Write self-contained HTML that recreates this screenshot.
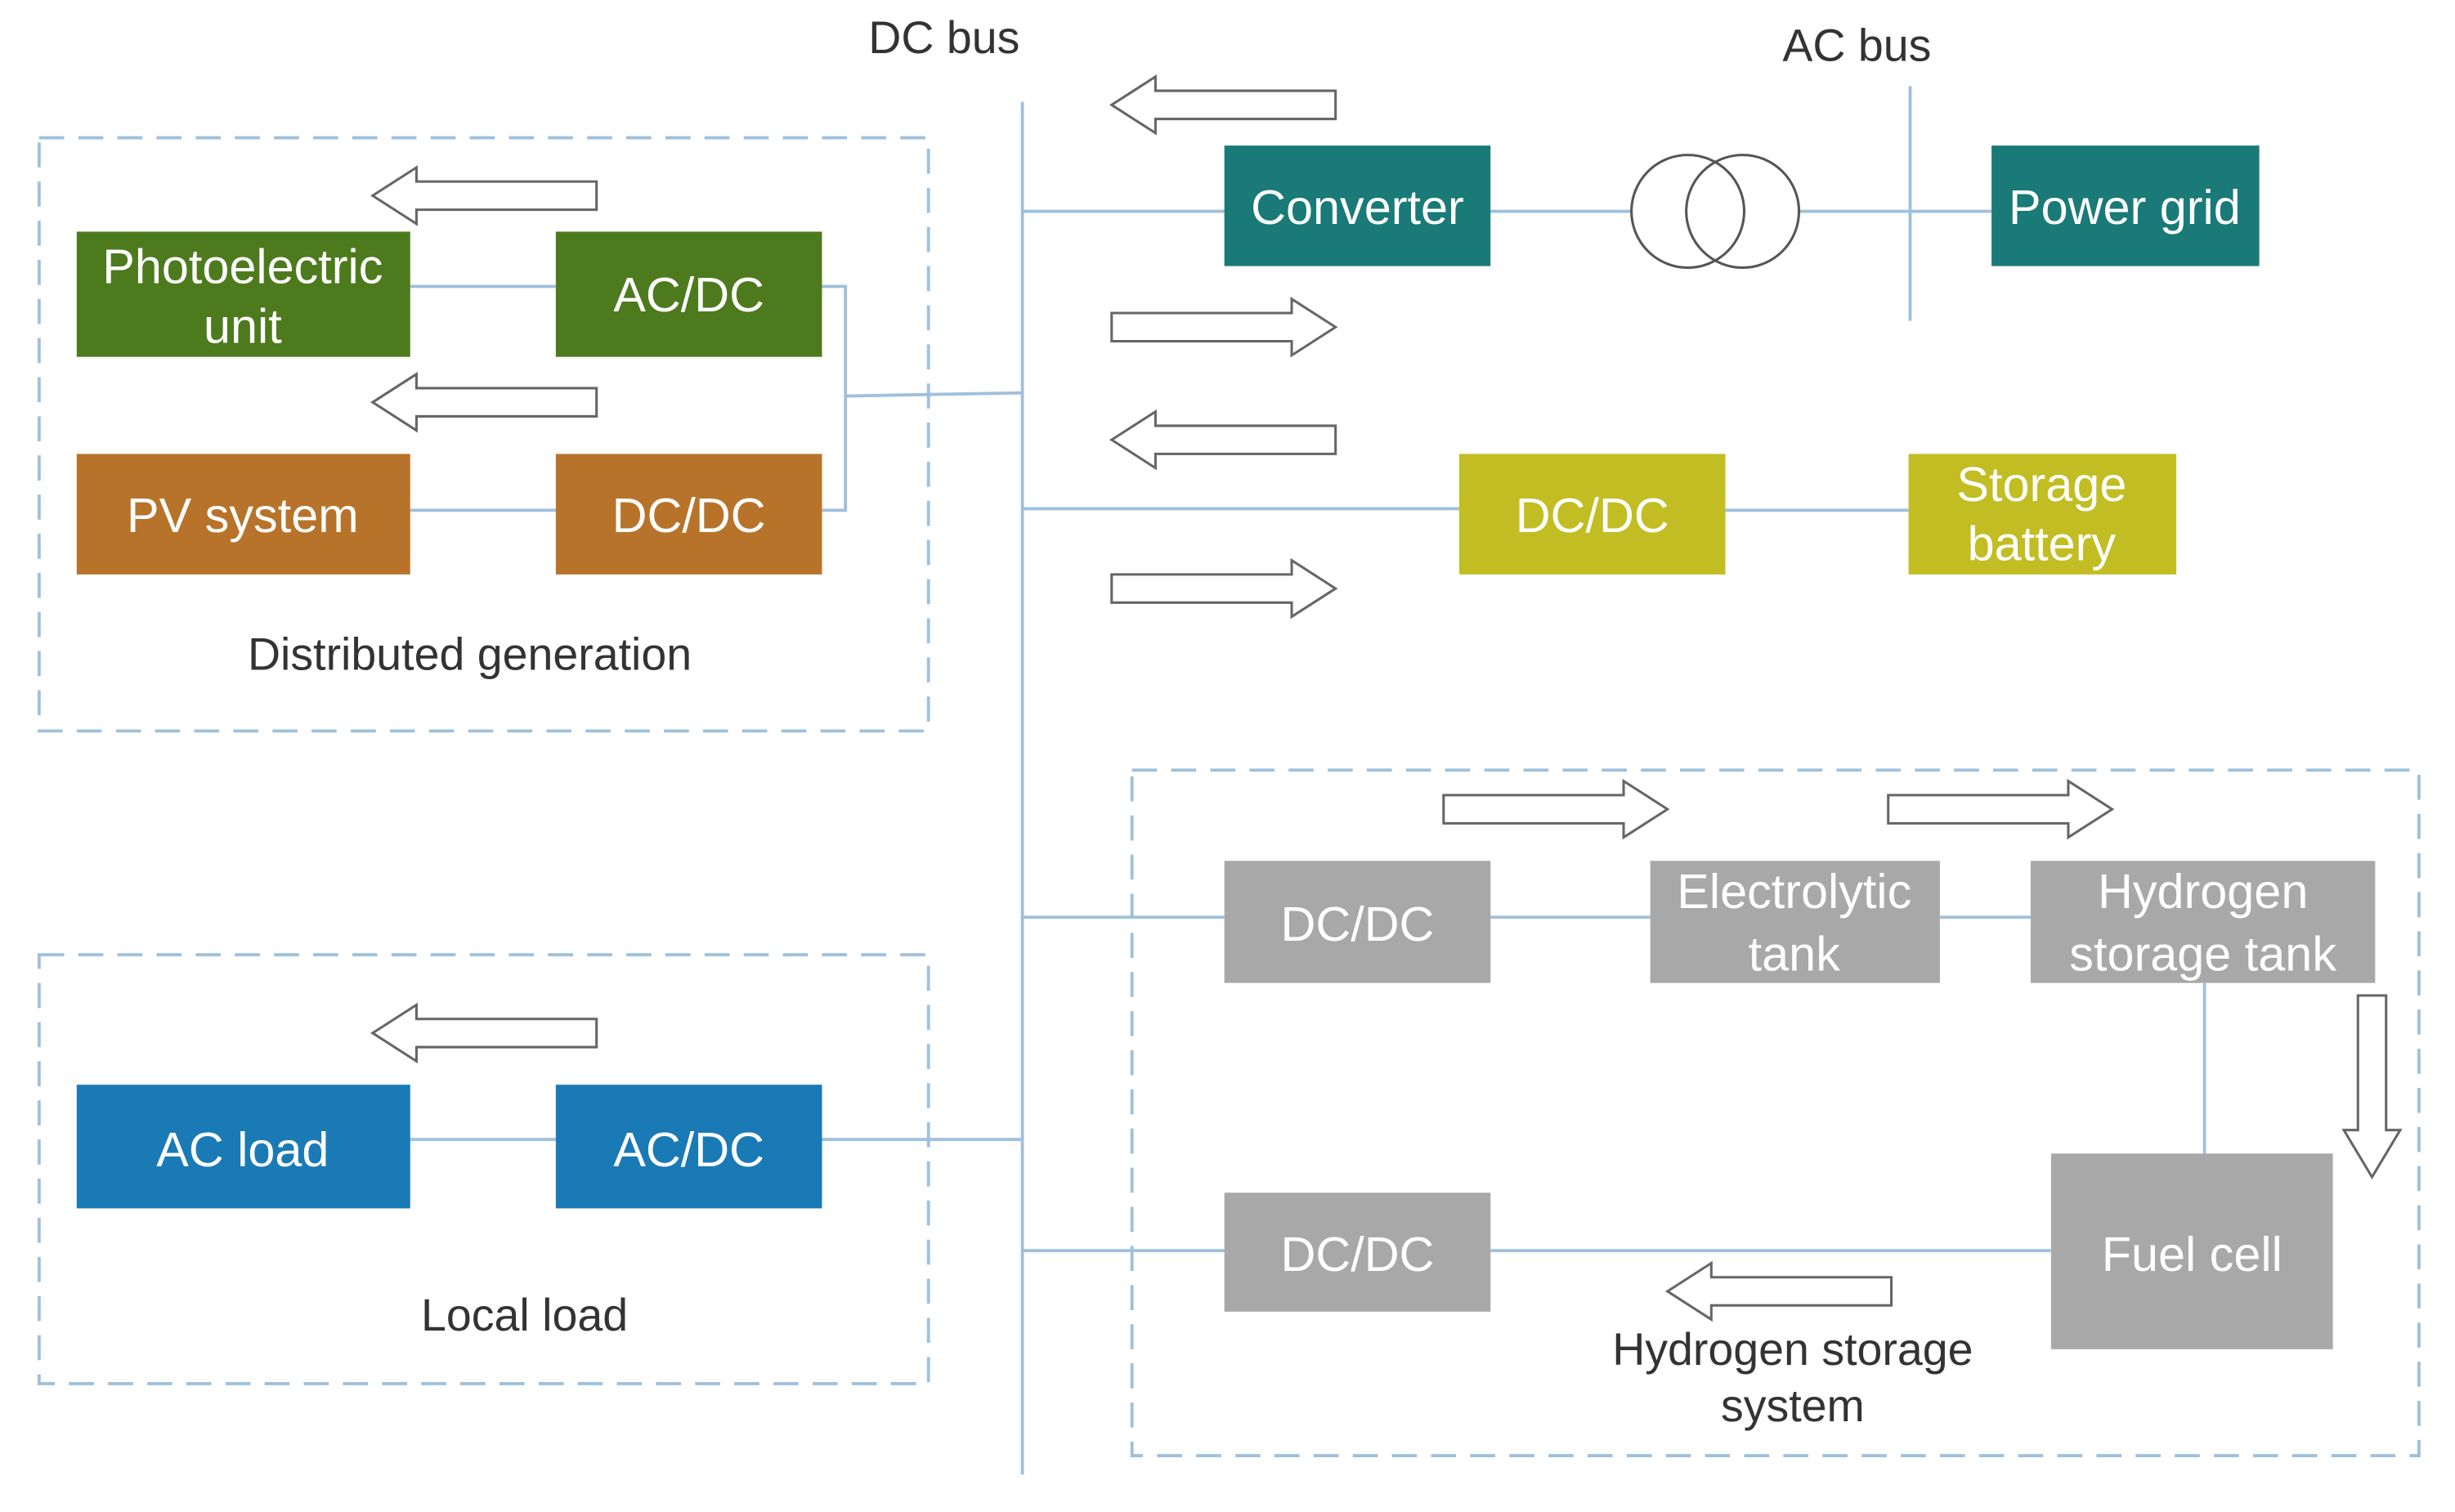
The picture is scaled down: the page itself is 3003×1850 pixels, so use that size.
<!DOCTYPE html>
<html><head><meta charset="utf-8"><style>
html,body{margin:0;padding:0;background:#fff;}
svg{display:block;}
text{font-family:"Liberation Sans",sans-serif;}
.w{fill:#fff;font-size:31px;text-anchor:middle;}
.k{fill:#333;font-size:29px;text-anchor:middle;}
.ln{stroke:#9fc0dc;stroke-width:2;fill:none;}
.ds{stroke:#9fc0dc;stroke-width:2;fill:none;stroke-dasharray:16,9;}
.ar{fill:#fff;stroke:#666;stroke-width:1.6;}
</style></head><body>
<svg width="3003" height="1850" viewBox="0 0 1568 966" preserveAspectRatio="none" xmlns="http://www.w3.org/2000/svg">
<defs>
<path id="ra" d="M0,-9 H115 V-18 L143,0 L115,18 V9 H0 Z"/>
<path id="la" d="M143,-9 H28 V-18 L0,0 L28,18 V9 H143 Z"/>
</defs>
<!-- dashed boxes -->
<rect class="ds" x="25" y="88" width="568" height="379"/>
<rect class="ds" x="25" y="610" width="568" height="274"/>
<rect class="ds" x="723" y="492" width="822" height="438"/>
<!-- buses -->
<line class="ln" x1="653" y1="65" x2="653" y2="942"/>
<line class="ln" x1="1220" y1="55" x2="1220" y2="205"/>
<text class="k" x="603" y="34">DC bus</text>
<text class="k" x="1186" y="39">AC bus</text>
<!-- connection lines -->
<polyline class="ln" points="262,183 355,183"/>
<polyline class="ln" points="262,326 355,326"/>
<polyline class="ln" points="525,183 540,183 540,326 525,326"/>
<polyline class="ln" points="540,253 653,251"/>
<polyline class="ln" points="262,728 355,728"/>
<polyline class="ln" points="525,728 653,728"/>
<polyline class="ln" points="653,135 782,135"/>
<polyline class="ln" points="952,135 1042,135"/>
<polyline class="ln" points="1149,135 1272,135"/>
<polyline class="ln" points="653,325 932,325"/>
<polyline class="ln" points="1102,326 1219,326"/>
<polyline class="ln" points="653,586 782,586"/>
<polyline class="ln" points="952,586 1054,586"/>
<polyline class="ln" points="1239,586 1297,586"/>
<polyline class="ln" points="1408,628 1408,737"/>
<polyline class="ln" points="653,799 782,799"/>
<polyline class="ln" points="952,799 1310,799"/>
<!-- transformer -->
<circle cx="1078" cy="135" r="36" fill="none" stroke="#555" stroke-width="1.6"/>
<circle cx="1113" cy="135" r="36" fill="none" stroke="#555" stroke-width="1.6"/>
<!-- boxes -->
<rect x="49" y="148" width="213" height="80" fill="#4e7a1e"/>
<text class="w" x="155" y="181">Photoelectric</text><text class="w" x="155" y="219">unit</text>
<rect x="355" y="148" width="170" height="80" fill="#4e7a1e"/>
<text class="w" x="440" y="199">AC/DC</text>
<rect x="49" y="290" width="213" height="77" fill="#b8732a"/>
<text class="w" x="155" y="340">PV system</text>
<rect x="355" y="290" width="170" height="77" fill="#b8732a"/>
<text class="w" x="440" y="340">DC/DC</text>
<rect x="49" y="693" width="213" height="79" fill="#1a7ab5"/>
<text class="w" x="155" y="745">AC load</text>
<rect x="355" y="693" width="170" height="79" fill="#1a7ab5"/>
<text class="w" x="440" y="745">AC/DC</text>
<rect x="782" y="93" width="170" height="77" fill="#1a7a78"/>
<text class="w" x="867" y="143">Converter</text>
<rect x="1272" y="93" width="171" height="77" fill="#1a7a78"/>
<text class="w" x="1357" y="143">Power grid</text>
<rect x="932" y="290" width="170" height="77" fill="#c2bd22"/>
<text class="w" x="1017" y="340">DC/DC</text>
<rect x="1219" y="290" width="171" height="77" fill="#c2bd22"/>
<text class="w" x="1304" y="320">Storage</text><text class="w" x="1304" y="358">battery</text>
<rect x="782" y="550" width="170" height="78" fill="#a8a8a8"/>
<text class="w" x="867" y="601">DC/DC</text>
<rect x="1054" y="550" width="185" height="78" fill="#a8a8a8"/>
<text class="w" x="1146" y="580">Electrolytic</text><text class="w" x="1146" y="620">tank</text>
<rect x="1297" y="550" width="220" height="78" fill="#a8a8a8"/>
<text class="w" x="1407" y="580">Hydrogen</text><text class="w" x="1407" y="620">storage tank</text>
<rect x="1310" y="737" width="180" height="125" fill="#a8a8a8"/>
<text class="w" x="1400" y="812">Fuel cell</text>
<rect x="782" y="762" width="170" height="76" fill="#a8a8a8"/>
<text class="w" x="867" y="812">DC/DC</text>
<!-- arrows -->
<use href="#la" x="238" y="125" class="ar"/>
<use href="#la" x="238" y="257" class="ar"/>
<use href="#la" x="238" y="660" class="ar"/>
<use href="#la" x="710" y="67" class="ar"/>
<use href="#ra" x="710" y="209" class="ar"/>
<use href="#la" x="710" y="281" class="ar"/>
<use href="#ra" x="710" y="376" class="ar"/>
<use href="#ra" x="922" y="517" class="ar"/>
<use href="#ra" x="1206" y="517" class="ar"/>
<use href="#la" x="1065" y="825" class="ar"/>
<path class="ar" d="M1506,636 H1524 V722 H1533 L1515,752 L1497,722 H1506 Z"/>
<!-- labels -->
<text class="k" x="300" y="428">Distributed generation</text>
<text class="k" x="335" y="850">Local load</text>
<text class="k" x="1145" y="872">Hydrogen storage</text>
<text class="k" x="1145" y="908">system</text>
</svg>
</body></html>
